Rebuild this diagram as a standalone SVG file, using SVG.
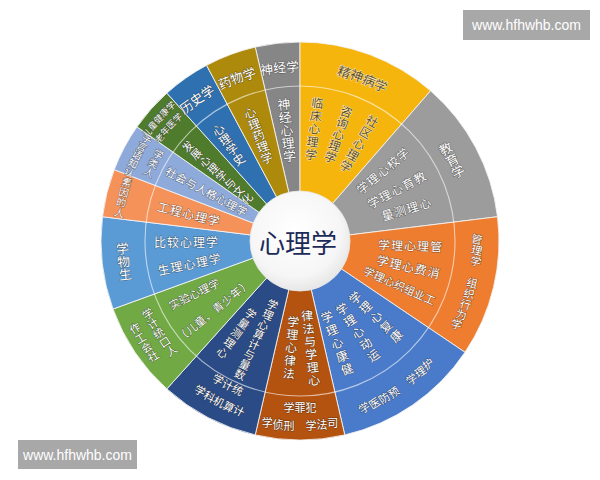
<svg xmlns="http://www.w3.org/2000/svg" width="600" height="480" viewBox="0 0 600 480">
<style>
.w{stroke:#f4f4f4;stroke-width:1;stroke-opacity:0.85}
.t{font-family:"Noto Sans CJK SC","Noto Sans CJK JP",sans-serif;text-anchor:middle;dominant-baseline:central;fill:#ffffff;stroke:rgba(30,30,30,0.5);stroke-width:1;paint-order:stroke}
.y{fill:#5e4c1e;stroke:rgba(255,255,255,0.75)}
.f13{font-size:13px}.f12{font-size:12px}.f11{font-size:11px}.f10{font-size:10px}.f9{font-size:9px}
.wm{font-family:"Liberation Sans",Arial,sans-serif;font-size:14px;fill:#ffffff;text-anchor:middle;dominant-baseline:central}
</style>
<defs>
<radialGradient id="cg" cx="0.45" cy="0.4" r="0.65">
<stop offset="0" stop-color="#ffffff"/>
<stop offset="0.7" stop-color="#f6f6f6"/>
<stop offset="1" stop-color="#e2e2e2"/>
</radialGradient>
</defs>
<rect width="600" height="480" fill="#ffffff"/>

<g id="seg-neuro">
<path class="w" fill="#868686" d="M300,241 L255.22,47.10 A199,199 0 0 1 300,42 Z"/>
<text class="t f13" x="267.33 280.19 293.16" y="69.08 67.12 66.14" rotate="-6.5" transform="translate(0.04,0.74)">神经学</text>
<text class="t f13" x="284.38 285.85 287.32 288.79 290.26" y="103.88 116.8 129.72 142.63 155.55" rotate="-6.5" transform="translate(0.04,0.74)">神经心理学</text>
</g>

<g id="seg-psychiatry">
<path class="w" fill="#f5b50d" d="M300,241 L300,42 A199,199 0 0 1 430.56,90.81 Z"/>
<text class="t y f13" x="342.66 355.16 367.34 379.14" y="71.28 74.92 79.47 84.92" rotate="20.5" transform="translate(0.41,-2.28)">精神病学</text>
<text class="t y f12" x="317.07 315.48 313.90 312.31 310.73" y="102.05 114.95 127.85 140.76 153.66" rotate="7" transform="translate(0.04,-0.73)">临床心理学</text>
<text class="t y f12" x="344.93 341.02 337.12 333.21 329.30" y="110.52 121.87 133.21 144.56 155.90" rotate="19" transform="translate(0.33,-1.95)">咨询心理学</text>
<text class="t y f12" x="370 363.5 357 350.5 344" y="119.76 131.02 142.28 153.53 164.79" rotate="30" transform="translate(0.80,-3.0)">社区心理学</text>
</g>

<g id="seg-education">
<path class="w" fill="#9c9c9c" d="M300,241 L430.56,90.81 A199,199 0 0 1 497.51,216.74 Z"/>
<text class="t f13" x="448.0 454.51 460.20" y="147.60 158.84 170.54" rotate="-28" transform="translate(0.76,3.05)">教育学</text>
<text class="t f12" x="405.71 395.75 385.79 375.83 365.88" y="152.29 160.65 169.01 177.36 185.72" rotate="-40" transform="translate(1.40,3.86)">学校心理学</text>
<text class="t f12" x="421.84 410.36 398.88 387.41 375.93" y="176.21 182.31 188.42 194.52 200.62" rotate="-28" transform="translate(0.70,2.82)">教育心理学</text>
<text class="t f12" x="426.23 413.80 401.37 388.94" y="202.40 206.20 210.00 213.81" rotate="-17" transform="translate(0.26,1.75)">心理测量</text>
</g>

<g id="seg-management">
<path class="w" fill="#ee7d30" d="M300,241 L497.51,216.74 A199,199 0 0 1 464.97,352.28 Z"/>
<text class="t f11" x="475.98 475.81 474.94 473.38 471.14 468.22 464.63 460.41 455.55" y="238.24 249.29 260.31 271.26 282.08 292.75 303.22 313.42 323.35" rotate="13.5" transform="translate(0.15,-1.28)">管理学 组织行为学</text>
<text class="t f12" x="435.92 422.93 409.93 396.94 383.95" y="245.75 245.29 244.84 244.39 243.93" rotate="2" transform="translate(0,-0.21)">管理心理学</text>
<text class="t f12" x="432.52 419.85 407.18 394.52 381.85" y="271.60 268.68 265.75 262.83 259.90" rotate="13" transform="translate(0.15,-1.35)">消费心理学</text>
<text class="t f11" x="427.89 417.84 407.79 397.74 387.70 377.65 367.60" y="297.94 293.47 288.99 284.52 280.04 275.57 271.10" rotate="24" transform="translate(0.48,-2.24)">工业组织心理学</text>
</g>

<g id="seg-health">
<path class="w" fill="#4a7bca" d="M300,241 L464.97,352.28 A199,199 0 0 1 344.78,434.91 Z"/>
<text class="t f11" x="430.26 422.43 414.10 405.34 396.17 386.65 376.75 366.59" y="362.32 370.21 377.62 384.49 390.79 396.48 401.61 406.08" rotate="-34.5" transform="translate(0.97,3.12)">护理学 预防医学</text>
<text class="t f12" x="348.74 343.72 338.71 333.69 328.67" y="367.97 354.90 341.83 328.76 315.69" rotate="-21" transform="translate(0.40,2.15)">健康心理学</text>
<text class="t f12" x="376.05 368.22 360.39 352.56 344.74" y="353.75 342.14 330.54 318.93 307.32" rotate="-34" transform="translate(1.03,3.36)">运动心理学</text>
<text class="t f12" x="399.47 389.23 378.99 368.75 358.51" y="333.75 324.20 314.66 305.11 295.56" rotate="-45" transform="translate(1.76,4.24)">康复心理学</text>
</g>

<g id="seg-law">
<path class="w" fill="#b4530f" d="M300,241 L344.78,434.91 A199,199 0 0 1 255.22,434.91 Z"/>
<text class="t f11" x="332.86 321.97 311.00 300 289.00 278.03 267.14" y="422.04 423.68 424.67 425 424.67 423.68 422.04">司法学 刑侦学</text>
<text class="t f11" x="311.0 300 289.0" y="406.63 407 406.63">犯罪学</text>
<text class="t f12" x="288.50 289.63 290.76 291.89 293.02" y="372.50 359.55 346.60 333.65 320.70" rotate="5" transform="translate(0.02,-0.52)">法律心理学</text>
<text class="t f12" x="314.53 313.17 311.81 310.45 309.09 307.73" y="379.24 366.31 353.38 340.45 327.52 314.59" rotate="-6" transform="translate(0.03,0.63)">心理学与法律</text>
</g>

<g id="seg-statistics">
<path class="w" fill="#2a4b86" d="M300,241 L255.22,434.91 A199,199 0 0 1 166.85,388.88 Z"/>
<text class="t f11" x="235.57 225.67 216.09" y="388.54 383.81 378.41" rotate="27.5" transform="translate(0.62,-2.54)">统计学</text>
<text class="t f11" x="236.96 226.79 216.89 207.30 198.05" y="409.61 405.43 400.66 395.30 389.34" rotate="27.5" transform="translate(0.62,-2.54)">计算机科学</text>
<text class="t f11" x="238.30 242.95 247.60 252.25 256.89 261.54 266.19 270.84" y="373.32 363.35 353.38 343.41 333.44 323.47 313.50 303.53" rotate="25" transform="translate(0.52,-2.32)">数量与计算心理学</text>
<text class="t f11" x="220.06 227.11 234.17 241.22 248.27" y="351.02 341.32 331.61 321.90 312.19" rotate="36" transform="translate(1.05,-3.23)">心理测量学</text>
</g>

<g id="seg-development">
<path class="w" fill="#71aa45" d="M300,241 L166.85,388.88 A199,199 0 0 1 113.00,309.06 Z"/>
<text class="t f11" x="155.27 148.77 142.75 137.33" y="354.60 345.81 336.57 326.98" rotate="-31" transform="translate(0.79,2.83)">社会工作</text>
<text class="t f11" x="173.96 167.08 160.78 155.10 150.05" y="349.03 340.43 331.40 321.99 312.20" rotate="-33" transform="translate(0.89,3.00)">人口统计学</text>
<text class="t f11" x="176.50 186.35 196.19 206.04 215.88" y="302.58 297.67 292.76 287.85 282.94" rotate="-26.5" transform="translate(0.58,2.45)">实验心理学</text>
<text class="t f11" x="184.99 193.93 202.86 211.80 220.74 229.67 238.61 247.55" y="334.14 326.90 319.66 312.43 305.19 297.95 290.71 283.48" rotate="-39" transform="translate(1.23,3.46)">（儿童、青少年）</text>
</g>

<g id="seg-biology">
<path class="w" fill="#5b9bd5" d="M300,241 L113.00,309.06 A199,199 0 0 1 102.49,216.74 Z"/>
<text class="t f13" x="126.08 124.13 123.14" y="273.89 261.04 248.08" rotate="-6.5" transform="translate(0.04,0.74)">生物学</text>
<text class="t f12" x="160 173 186 199 212" y="241 241 241 241 241">比较心理学</text>
<text class="t f12" x="164.77 177.51 190.25 202.99 215.73" y="268.52 265.93 263.33 260.74 258.15" rotate="-11.5" transform="translate(0.12,1.20)">生理心理学</text>
</g>

<g id="seg-human-factors">
<path class="w" fill="#f4925a" d="M300,241 L102.49,216.74 A199,199 0 0 1 114.21,169.68 Z"/>
<text class="t f10" x="118.32 120.27 122.81 125.92" y="211.89 201.59 191.43 181.40" rotate="14" transform="translate(0.15,-1.21)">人的因素</text>
<text class="t f12" x="162.22 174.83 187.45 200.06 212.67" y="206.65 209.79 212.94 216.08 219.23" rotate="14" transform="translate(0.18,-1.45)">工程心理学</text>
</g>

<g id="seg-social">
<path class="w" fill="#8eaadb" d="M300,241 L114.21,169.68 A199,199 0 0 1 136.98,126.85 Z"/>
<text class="t f10" x="127.63 131.48 135.78 140.49 145.66" y="171.08 162.27 153.67 145.34 137.21" rotate="28" transform="translate(0.59,-2.35)">认知语言学</text>
<text class="t f10" x="147.25 151.67 156.61" y="171.10 162.12 153.44" rotate="28" transform="translate(0.59,-2.35)">人类学</text>
<text class="t f11" x="169.33 179.40 189.46 199.53 209.59 219.66 229.72 239.79" y="171.51 176.87 182.22 187.57 192.92 198.28 203.63 208.98" rotate="28" transform="translate(0.64,-2.58)">社会与人格心理学</text>
</g>

<g id="seg-culture">
<path class="w" fill="#4f7b2c" d="M300,241 L136.98,126.85 A199,199 0 0 1 166.85,93.12 Z"/>
<text class="t f9" x="149.47 154.88 160.69 166.82 173.26" y="131.74 124.66 117.76 111.15 104.87" rotate="-45" transform="translate(1.32,3.18)">儿童健康学</text>
<text class="t f9" x="161.89 167.48 173.45 179.83" y="136.82 129.80 123.03 116.54" rotate="-45" transform="translate(1.32,3.18)">老年医学</text>
<text class="t f11" x="190.65 199.11 207.57 216.04 224.50 232.96 241.43 249.89" y="144.26 151.75 159.23 166.72 174.21 181.70 189.18 196.67" rotate="-45" transform="translate(1.61,3.89)">发展心理学与文化</text>
</g>

<g id="seg-history">
<path class="w" fill="#2f70b0" d="M300,241 L166.85,93.12 A199,199 0 0 1 206.57,65.30 Z"/>
<text class="t f13" x="189.24 199.62 210.54" y="105.51 97.64 90.59" rotate="-35" transform="translate(1.18,3.73)">历史学</text>
<text class="t f12" x="220.84 227.73 234.61 241.49" y="127.95 137.78 147.61 157.44" rotate="-35" transform="translate(1.08,3.44)">心理学史</text>
</g>

<g id="seg-pharmacology">
<path class="w" fill="#ad8a0c" d="M300,241 L206.57,65.30 A199,199 0 0 1 255.22,47.10 Z"/>
<text class="t f13" x="226.71 238.72 251.05" y="82.08 77.08 72.98" rotate="-20.5" transform="translate(0.41,2.28)">药物学</text>
<text class="t f12" x="251.67 255.87 260.08 264.28 268.48" y="111.74 122.98 134.22 145.46 156.70" rotate="-20.5" transform="translate(0.38,2.10)">心理药理学</text>
</g>

<g id="dividers">
<circle cx="300" cy="241" r="155" fill="none" stroke="#ffffff" stroke-opacity="0.6" stroke-width="1.1"/>
</g>

<g id="center">
<circle cx="300" cy="241" r="50" fill="url(#cg)" stroke="#e8e8e8" stroke-width="0.8"/>
<text x="298" y="241" font-family="'Noto Sans CJK SC','Noto Sans CJK JP',sans-serif" font-size="26" fill="#1c2a58" text-anchor="middle" dominant-baseline="central">心理学</text>
</g>

<g id="watermark-top">
<rect x="463" y="10" width="127" height="30" fill="#a8a8a8"/>
<text class="wm" x="526.5" y="25">www.hfhwhb.com</text>
</g>
<g id="watermark-bottom">
<rect x="18" y="440" width="119" height="29" fill="#a8a8a8"/>
<text class="wm" x="77.5" y="454.5">www.hfhwhb.com</text>
</g>
</svg>
